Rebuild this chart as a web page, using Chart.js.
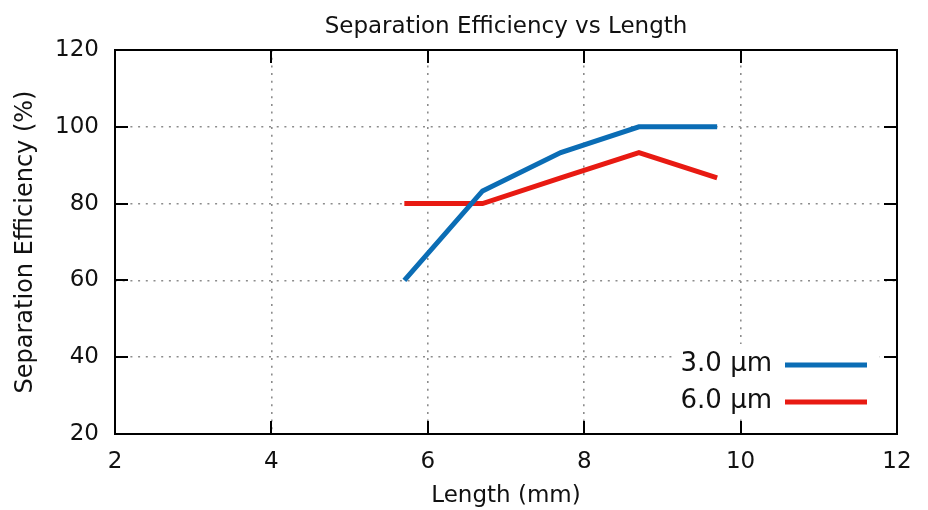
<!DOCTYPE html>
<html>
<head>
<meta charset="utf-8">
<script src="https://cdn.jsdelivr.net/npm/chart.js@4/dist/chart.umd.min.js"></script>
<style>
  html, body { margin: 0; padding: 0; background: #ffffff; }
  #wrap { width: 928px; height: 510px; position: relative; }
</style>
</head>
<body>
<div id="wrap"><canvas id="c" width="928" height="510"></canvas></div>
<script>
// ---- data ----
const lengths = [5.7, 6.7, 7.7, 8.7, 9.7];
const eff3um = [60, 83.3, 93.3, 100, 100];
const eff6um = [80, 80, 86.7, 93.3, 86.7];
const seriesLabels = ['3.0 µm', '6.0 µm'];
const xTicks = [2, 4, 6, 8, 10, 12];
const yTicks = [20, 40, 60, 80, 100, 120];
const chartTitle = 'Separation Efficiency vs Length';
const xTitle = 'Length (mm)';
const yTitle = 'Separation Efficiency (%)';

const FONT = '"DejaVu Sans", sans-serif';
const BLUE = '#0b6db5';
const RED = '#e81a12';

const framePlugin = {
  id: 'frame',
  beforeDatasetsDraw(chart) {
    // opaque legend box covering the grid
    const ctx = chart.ctx;
    const a = chart.chartArea;
    ctx.save();
    ctx.fillStyle = '#ffffff';
    ctx.fillRect(a.right - 222, a.bottom - 90, 204, 74);
    ctx.restore();
  },
  afterDatasetsDraw(chart) {
    const ctx = chart.ctx;
    const a = chart.chartArea;
    const xs = chart.scales.x, ys = chart.scales.y;
    ctx.save();
    ctx.strokeStyle = '#000';
    ctx.lineWidth = 2;
    const tl = 13;
    ctx.beginPath();
    xTicks.forEach(v => {
      const px = Math.round(xs.getPixelForValue(v));
      ctx.moveTo(px, a.bottom); ctx.lineTo(px, a.bottom - tl);
      ctx.moveTo(px, a.top); ctx.lineTo(px, a.top + tl);
    });
    yTicks.forEach(v => {
      const py = Math.round(ys.getPixelForValue(v));
      ctx.moveTo(a.left, py); ctx.lineTo(a.left + tl, py);
      ctx.moveTo(a.right, py); ctx.lineTo(a.right - tl, py);
    });
    ctx.stroke();
    ctx.lineWidth = 2;
    ctx.strokeRect(a.left, a.top, a.right - a.left, a.bottom - a.top);

    ctx.fillStyle = '#111';
    ctx.font = '23px ' + FONT;
    ctx.textAlign = 'center';
    ctx.textBaseline = 'middle';
    ctx.fillText(chartTitle, (a.left + a.right) / 2, 27);

    ctx.font = '26px ' + FONT;
    ctx.textAlign = 'right';
    chart.data.datasets.forEach((ds, i) => {
      const y = a.bottom - 70 + i * 37;
      ctx.fillStyle = '#111';
      ctx.fillText(ds.label, a.right - 125, y);
      ctx.strokeStyle = ds.borderColor;
      ctx.lineWidth = 5;
      ctx.beginPath();
      ctx.moveTo(a.right - 112, y + 1);
      ctx.lineTo(a.right - 30, y + 1);
      ctx.stroke();
    });
    ctx.restore();
  }
};

new Chart(document.getElementById('c'), {
  type: 'line',
  data: {
    datasets: [
      { label: seriesLabels[0], data: lengths.map((x, i) => ({ x, y: eff3um[i] })),
        borderColor: BLUE, backgroundColor: BLUE, borderWidth: 5, pointRadius: 0, tension: 0 },
      { label: seriesLabels[1], data: lengths.map((x, i) => ({ x, y: eff6um[i] })),
        borderColor: RED, backgroundColor: RED, borderWidth: 5, pointRadius: 0, tension: 0 }
    ]
  },
  options: {
    responsive: false,
    animation: false,
    layout: { padding: { top: 50, right: 31, bottom: 0, left: 0 } },
    plugins: { legend: { display: false }, tooltip: { enabled: false }, title: { display: false } },
    scales: {
      x: {
        type: 'linear', min: 2, max: 12,
        afterBuildTicks: s => { s.ticks = xTicks.map(v => ({ value: v })); },
        afterFit: s => { s.height = 76; },
        grid: { color: '#8c8c8c', lineWidth: 1.6, drawTicks: false },
        border: { display: false, dash: [2, 5.7] },
        ticks: { color: '#111', font: { family: FONT, size: 23 }, padding: 14, maxRotation: 0 },
        title: { display: true, text: xTitle, color: '#111', font: { family: FONT, size: 23 }, padding: { top: 1, bottom: 0 } }
      },
      y: {
        type: 'linear', min: 20, max: 120,
        afterBuildTicks: s => { s.ticks = yTicks.map(v => ({ value: v })); },
        afterFit: s => { s.width = 115; },
        grid: { color: '#8c8c8c', lineWidth: 1.6, drawTicks: false },
        border: { display: false, dash: [2, 5.7] },
        ticks: { color: '#111', font: { family: FONT, size: 23 }, padding: 16 },
        title: { display: true, text: yTitle, color: '#111', font: { family: FONT, size: 24 }, padding: { top: 11, bottom: 0 } }
      }
    }
  },
  plugins: [framePlugin]
});
</script>
</body>
</html>
